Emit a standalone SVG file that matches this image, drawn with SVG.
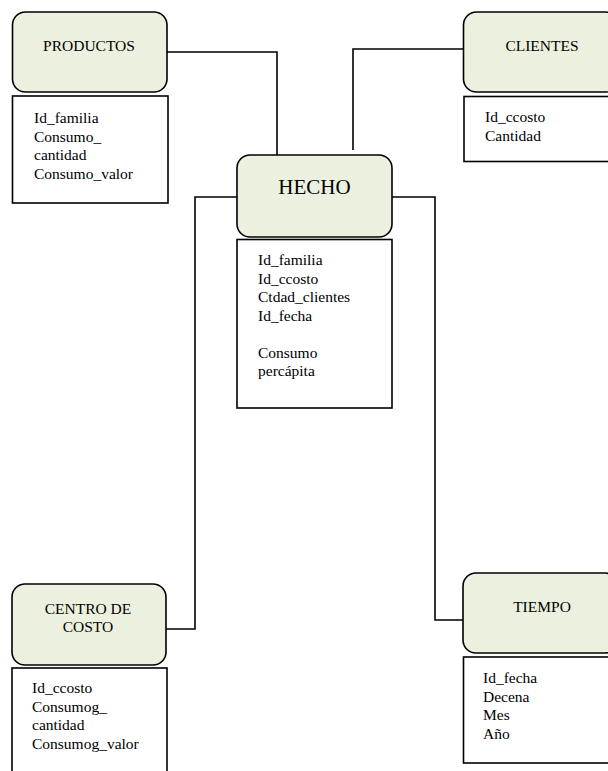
<svg xmlns="http://www.w3.org/2000/svg" width="608" height="771" viewBox="0 0 608 771">
<style>
.ent{fill:#EBF1DE;stroke:#000;stroke-width:1.6}
.attr{fill:#fff;stroke:#000;stroke-width:1.6}
.conn{fill:none;stroke:#000;stroke-width:1.6}
.t{font-size:15.5px}
.title{font-size:15.5px;text-anchor:middle}
.big{font-size:21px;text-anchor:middle}
</style>
<rect width="608" height="771" fill="#fff"/>
<g id="connectors">
<polyline class="conn" points="167,52 277,52 277,156"/>
<polyline class="conn" points="463,49 353,49 353,150"/>
<polyline class="conn" points="237,197 195,197 195,629 166,629"/>
<polyline class="conn" points="392,197 435,197 435,620 463,620"/>
</g>
<g font-family="Liberation Serif, Times New Roman, DejaVu Serif, serif" fill="#000">
<g id="productos">
<rect class="ent" x="12.5" y="12" width="154.5" height="80" rx="13"/>
<text class="title" x="89" y="50.5">PRODUCTOS</text>
<rect class="attr" x="12.5" y="96" width="155.5" height="107"/>
<text class="t" x="34" y="123">Id_familia</text>
<text class="t" x="34" y="141.5">Consumo_</text>
<text class="t" x="34" y="160">cantidad</text>
<text class="t" x="34" y="178.5">Consumo_valor</text>
</g>
<g id="clientes">
<rect class="ent" x="463.5" y="12" width="155" height="80" rx="13"/>
<text class="title" x="542" y="51">CLIENTES</text>
<rect class="attr" x="464" y="96.5" width="155" height="65"/>
<text class="t" x="485" y="122">Id_ccosto</text>
<text class="t" x="485" y="140.5">Cantidad</text>
</g>
<g id="hecho">
<rect class="ent" x="237" y="155" width="155" height="82" rx="13"/>
<text class="big" x="314.5" y="194">HECHO</text>
<rect class="attr" x="237" y="239.5" width="155" height="168.5"/>
<text class="t" x="258" y="265">Id_familia</text>
<text class="t" x="258" y="283.5">Id_ccosto</text>
<text class="t" x="258" y="302">Ctdad_clientes</text>
<text class="t" x="258" y="320.5">Id_fecha</text>
<text class="t" x="258" y="357.5">Consumo</text>
<text class="t" x="258" y="376">percápita</text>
</g>
<g id="centro">
<rect class="ent" x="12" y="584" width="154" height="81" rx="13"/>
<text class="title" x="88" y="614">CENTRO DE</text>
<text class="title" x="88" y="632">COSTO</text>
<rect class="attr" x="12" y="668" width="155" height="120"/>
<text class="t" x="32" y="693">Id_ccosto</text>
<text class="t" x="32" y="711.5">Consumog_</text>
<text class="t" x="32" y="730">cantidad</text>
<text class="t" x="32" y="748.5">Consumog_valor</text>
</g>
<g id="tiempo">
<rect class="ent" x="463" y="573" width="155" height="80" rx="13"/>
<text class="title" x="542" y="612">TIEMPO</text>
<rect class="attr" x="463.5" y="657" width="155" height="106"/>
<text class="t" x="483" y="683">Id_fecha</text>
<text class="t" x="483" y="701.5">Decena</text>
<text class="t" x="483" y="720">Mes</text>
<text class="t" x="483" y="738.5">Año</text>
</g>
</g>
</svg>
